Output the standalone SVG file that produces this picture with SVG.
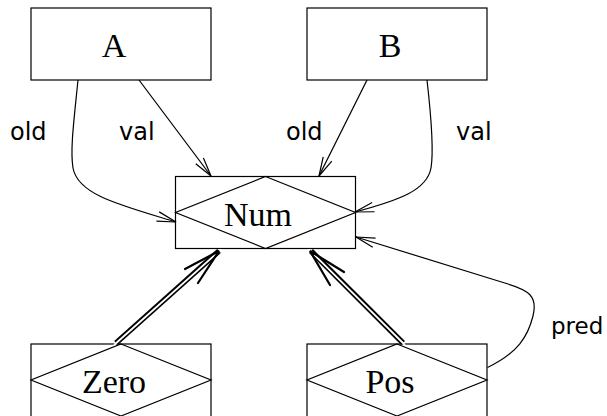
<svg xmlns="http://www.w3.org/2000/svg" width="607" height="416" viewBox="0 0 607 416">
<style>
.box{fill:none;stroke:#000;stroke-width:1.2}
.dia{fill:none;stroke:#000;stroke-width:1.2}
.nm{font-family:"Liberation Serif","DejaVu Serif",serif;font-size:34px;text-anchor:middle;fill:#000}
.lbl{font-family:"DejaVu Sans","Liberation Sans",sans-serif;font-size:24px;fill:#000}
.edge{fill:none;stroke:#000;stroke-width:1.2;marker-end:url(#ah)}
.dbl-out{fill:none;stroke:#000;stroke-width:5.5}
.dbl-in{fill:none;stroke:#fff;stroke-width:1.8}
.barb{fill:none;stroke:#000;stroke-width:2.2;stroke-linecap:round}
</style>
<defs>
<marker id="ah" viewBox="-21 -7 22 14" refX="0" refY="0" markerWidth="22" markerHeight="14" markerUnits="userSpaceOnUse" orient="auto">
<path d="M-19,-4.8 L0,0 L-19,4.8" fill="none" stroke="#000" stroke-width="1.2"/>
</marker>
</defs>
<rect width="607" height="416" fill="#fff"/>
<g id="A"><rect class="box" x="31" y="8" width="180" height="72"/><text class="nm" x="114" y="57">A</text></g>
<g id="B"><rect class="box" x="307" y="8" width="180" height="72"/><text class="nm" x="390" y="57">B</text></g>
<g id="Num"><rect class="box" x="175.5" y="176.5" width="180" height="72"/><path class="dia" d="M265.5,176.5 L355.5,212.5 L265.5,248.5 L175.5,212.5 Z"/><text class="nm" x="258" y="226">Num</text></g>
<g id="Zero"><rect class="box" x="31" y="344" width="180" height="80"/><path class="dia" d="M121,344 L211,380 L121,416 L31,380 Z"/><text class="nm" x="114" y="393">Zero</text></g>
<g id="Pos"><rect class="box" x="307" y="344" width="180" height="80"/><path class="dia" d="M397,344 L487,380 L397,416 L307,380 Z"/><text class="nm" x="390" y="393">Pos</text></g>
<g id="connectors">
<path class="edge" d="M78,80 C74,120 70,150 73,168 C78,195 120,205 176,222"/>
<path class="edge" d="M139,80 L211,176"/>
<path class="edge" d="M367,80 L319,176"/>
<path class="edge" d="M427,80 C431,115 434,150 431,168 C427,190 400,200 355,212"/>
<path class="edge" d="M487.5,367.5 C518,353 528,336 533,316 C538,296 528,290 508,284 L356,237"/>
<path class="dbl-out" d="M116,343 L219,251"/>
<path class="dbl-in" d="M114,345 L221,249.5"/>
<path class="barb" d="M185,269 L219,251 L198,283"/>
<path class="dbl-out" d="M403,343 L311,251"/>
<path class="dbl-in" d="M405,345 L309,249.5"/>
<path class="barb" d="M344,272 L310,251 L330,285"/>
<text class="lbl" x="10" y="140">old</text>
<text class="lbl" x="119" y="140">val</text>
<text class="lbl" x="286" y="140">old</text>
<text class="lbl" x="456" y="140">val</text>
<text class="lbl" x="551" y="334" style="font-size:23px">pred</text>
</g>
</svg>
